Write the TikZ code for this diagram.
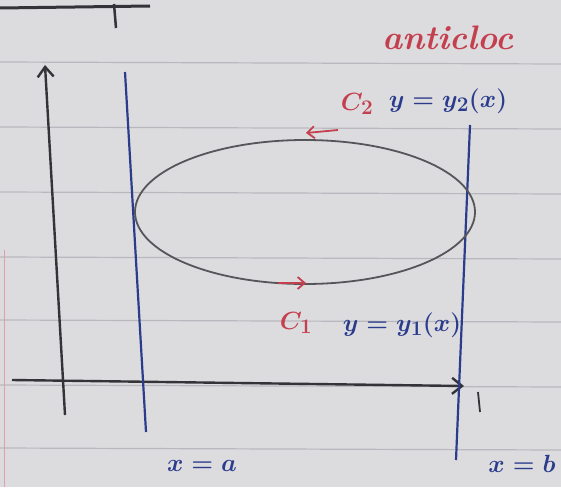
\documentclass[tikz,border=0pt]{standalone}
\usetikzlibrary{arrows.meta}
\definecolor{paper}{HTML}{DCDCDF}
\definecolor{rule}{HTML}{B8B8BE}
\definecolor{inkblue}{HTML}{2B3C8C}
\definecolor{inkred}{HTML}{C4404F}
\definecolor{pencil}{HTML}{333338}
\definecolor{ellgray}{HTML}{55555A}
\begin{document}
\begin{tikzpicture}[x=1pt,y=-1pt,
  axis/.style={draw=pencil,line width=2.4pt,-{Straight Barb[length=10pt,width=16pt]}},
  bound/.style={draw=inkblue,line width=2.2pt},
  curve/.style={draw=ellgray,line width=1.8pt},
  dirarrow/.style={draw=inkred,line width=1.8pt,-{Straight Barb[length=7pt,width=12pt]}},
  bluelab/.style={text=inkblue,font=\fontsize{29}{31}\selectfont\boldmath,inner sep=0pt},
  redlab/.style={text=inkred,font=\fontsize{29}{31}\selectfont\boldmath,inner sep=0pt}]
\fill[paper] (0,0) rectangle (561,487);
\useasboundingbox (0,0) rectangle (561,487);
% ruled lines
\foreach \yy in {62,127,192,257,320,385,448}
  \draw[rule,line width=1.2pt] (0,\yy) -- (561,\yy+2);
\draw[inkred!50,line width=1pt] (4,250) -- (4,487);
\draw[pencil,line width=3pt] (0,8) -- (150,6);
\draw[pencil,line width=2.5pt] (114,4) -- (116,28);
% coordinates
\coordinate (yb) at (65,415);
\coordinate (yt) at (45,65);
\coordinate (xl) at (12,380);
\coordinate (xr) at (464,386);
\coordinate (at) at (125,72);
\coordinate (ab) at (146,432);
\coordinate (bt) at (470,125);
\coordinate (bb) at (456,460);
\coordinate (tick1) at (478,392);
\coordinate (tick2) at (480,412);
% axes
\draw[axis] (yb) -- (yt);
\draw[axis] (xl) -- (xr);
% boundary lines
\draw[bound] (at) -- (ab);
\draw[bound] (bt) -- (bb);
\draw[pencil,line width=1.8pt] (tick1) -- (tick2);
% region
\draw[curve] (305,212) ellipse [x radius=170, y radius=72];
% direction arrows
\coordinate (c2s) at (338,130);
\coordinate (c2e) at (306,133);
\coordinate (c1s) at (278,283);
\coordinate (c1e) at (306,283);
\draw[dirarrow] (c2s) -- (c2e);
\draw[dirarrow] (c1s) -- (c1e);
% labels
\node[redlab] (c2) at (357,104) {$C_2$};
\node[bluelab] (y2) at (448,101) {$y=y_2(x)$};
\node[redlab] (c1) at (296,323) {$C_1$};
\node[bluelab] (y1) at (402,325) {$y=y_1(x)$};
\node[bluelab] (xa) at (202,466) {$x=a$};
\node[bluelab] (xb) at (522,464) {$x=b$};
\node[redlab,anchor=west,font=\fontsize{34}{36}\selectfont\itshape\bfseries] (ac) at (382,38) {anticloc};
\end{tikzpicture}
\end{document}
